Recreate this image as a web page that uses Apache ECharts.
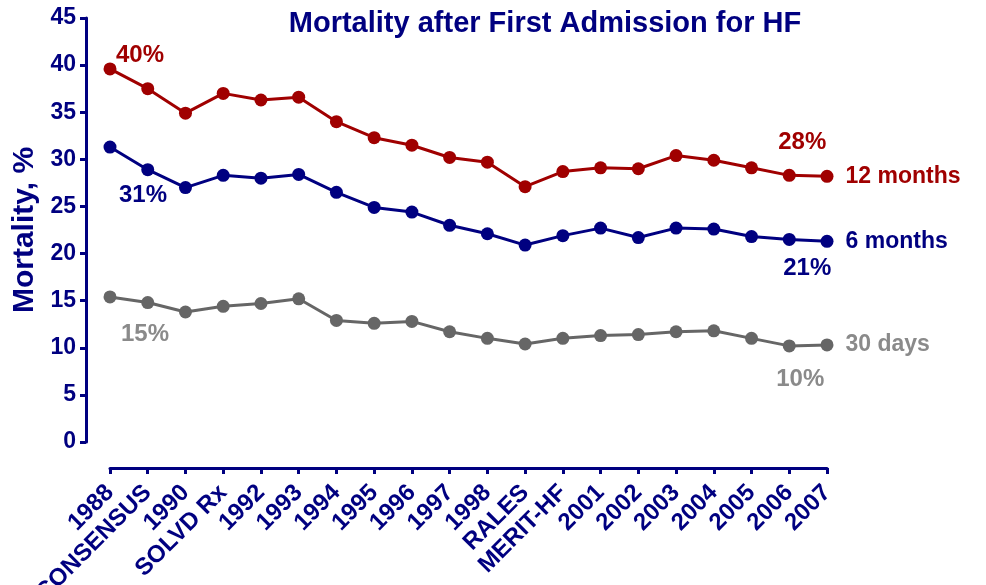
<!DOCTYPE html>
<html>
<head>
<meta charset="utf-8">
<script src="https://cdn.jsdelivr.net/npm/echarts@6/dist/echarts.min.js"></script>
<style>html,body{margin:0;padding:0;background:#fff}#c{width:986px;height:585px}</style>
</head>
<body>
<div id="c"></div>
<script>
var categories = ['1988','CONSENSUS','1990','SOLVD Rx','1992','1993','1994','1995','1996','1997','1998','RALES','MERIT-HF','2001','2002','2003','2004','2005','2006','2007'];
var months12 = [39.6,37.5,34.9,37.0,36.3,36.6,34.0,32.3,31.5,30.2,29.7,27.1,28.7,29.1,29.0,30.4,29.9,29.1,28.3,28.2];
var months6  = [31.3,28.9,27.0,28.3,28.0,28.4,26.5,24.9,24.4,23.0,22.1,20.9,21.9,22.7,21.7,22.7,22.6,21.8,21.5,21.3];
var days30   = [15.4,14.8,13.8,14.4,14.7,15.2,12.9,12.6,12.8,11.7,11.0,10.4,11.0,11.3,11.4,11.7,11.8,11.0,10.2,10.3];
var seriesNames = ['12 months','6 months','30 days'];
var yTicks = [0,5,10,15,20,25,30,35,40,45];
// annotations: [data index, text]
var notes12 = [[0,'40%'],[18,'28%']];
var notes6  = [[0,'31%'],[18,'21%']];
var notes30 = [[0,'15%'],[18,'10%']];

var FONT = 'Liberation Sans, Arial, sans-serif';
var NAVY = '#000080', RED = '#a00000', GRAY = '#666666', GRAYT = '#8a8a8a';

function build(values, notes, offsets, endText, lblColor) {
  return values.map(function (v, i) {
    var item = { value: v };
    var n = -1;
    for (var k = 0; k < notes.length; k++) if (notes[k][0] === i) n = k;
    if (n >= 0) {
      item.label = { show: true, position: 'inside', offset: offsets[n], formatter: notes[n][1],
        color: lblColor, fontFamily: FONT, fontWeight: 'bold', fontSize: 24 };
    }
    if (i === values.length - 1) {
      item.label = { show: true, position: 'right', distance: 12, formatter: endText,
        color: lblColor, fontFamily: FONT, fontWeight: 'bold', fontSize: 23 };
    }
    return item;
  });
}

function mkSeries(name, values, notes, offsets, color, lblColor) {
  return {
    name: name, type: 'line', data: build(values, notes, offsets, name, lblColor),
    symbol: 'circle', symbolSize: 13,
    lineStyle: { color: color, width: 3 },
    itemStyle: { color: color },
    label: { show: false },
    animation: false, z: 3
  };
}

var chart = echarts.init(document.getElementById('c'), null, { renderer: 'canvas' });
chart.setOption({
  backgroundColor: '#fff',
  animation: false,
  title: {
    text: 'Mortality after First Admission for HF', left: 540, top: 4, textAlign: 'center',
    textStyle: { color: NAVY, fontFamily: FONT, fontWeight: 'bold', fontSize: 29 }
  },
  grid: { left: 110, right: 159, top: 18, bottom: 143, containLabel: false, outerBoundsMode: 'none' },
  xAxis: {
    type: 'category', data: categories, boundaryGap: false, offset: 26,
    axisLine: { onZero: false, lineStyle: { color: NAVY, width: 3 } },
    axisTick: { show: true, length: 6, lineStyle: { color: NAVY, width: 3 }, alignWithLabel: true },
    axisLabel: { interval: 0, rotate: 45, margin: 21, color: NAVY, fontFamily: FONT, fontWeight: 'bold', fontSize: 24 },
    splitLine: { show: false }
  },
  yAxis: {
    type: 'value', min: yTicks[0], max: yTicks[yTicks.length - 1], interval: 5, offset: 24,
    name: 'Mortality, %', nameLocation: 'middle', nameGap: 46, nameRotate: 90, nameMoveOverlap: false,
    nameTextStyle: { color: NAVY, fontFamily: FONT, fontWeight: 'bold', fontSize: 30 },
    axisLine: { show: true, onZero: false, lineStyle: { color: NAVY, width: 3 } },
    axisTick: { show: true, length: 6, lineStyle: { color: NAVY, width: 3 } },
    axisLabel: { margin: 10, color: NAVY, fontFamily: FONT, fontWeight: 'bold', fontSize: 23 },
    splitLine: { show: false }
  },
  series: [
    mkSeries(seriesNames[0], months12, notes12, [[30, -14], [13, -33]], RED, RED),
    mkSeries(seriesNames[1], months6, notes6, [[33, 48], [18, 29]], NAVY, NAVY),
    mkSeries(seriesNames[2], days30, notes30, [[35, 37], [11, 33]], GRAY, GRAYT)
  ]
});
</script>
</body>
</html>
